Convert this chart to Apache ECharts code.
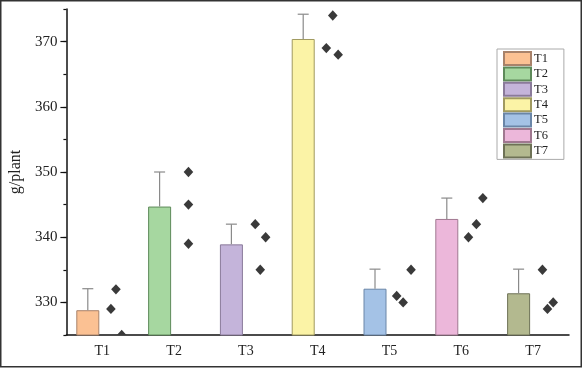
<!DOCTYPE html>
<html>
<head>
<meta charset="utf-8">
<script src="https://cdn.jsdelivr.net/npm/echarts@6/dist/echarts.min.js"></script>
<style>html,body{margin:0;padding:0;background:#fff;}#c{width:582px;height:368px;}</style>
</head>
<body>
<div id="c"></div>
<script>
// ---- data ----
const categories = ['T1', 'T2', 'T3', 'T4', 'T5', 'T6', 'T7'];
const means = [328.8, 344.7, 338.9, 370.4, 332.1, 342.8, 331.4];
const upper = [332.1, 350.0, 342.0, 374.2, 335.1, 346.0, 335.1];
const points = [
  [332, 329, 325],
  [350, 345, 339],
  [342, 340, 335],
  [374, 369, 368],
  [335, 331, 330],
  [346, 342, 340],
  [335, 329, 330]
];
const jitter = [
  [0.19, 0.12, 0.27],
  [0.20, 0.20, 0.20],
  [0.13, 0.275, 0.20],
  [0.21, 0.12, 0.285],
  [0.30, 0.10, 0.19],
  [0.30, 0.21, 0.10],
  [0.13, 0.20, 0.28]
];
const fills = ['#FBC193', '#A6D7A0', '#C4B4DA', '#FBF3A6', '#A4C2E6', '#ECB7DA', '#B3B98F'];
const borders = ['#A8826A', '#5E8A5A', '#8A7A9A', '#A09A60', '#6A86A8', '#A07890', '#6E7256'];

const FONT = '"Liberation Serif", "DejaVu Serif", serif';
const BAR_OFFSET = -14.5;

const chart = echarts.init(document.getElementById('c'), null, {renderer: 'canvas'});

const barSeries = categories.map((name, i) => ({
  name: name,
  type: 'bar',
  stack: 'main',
  barWidth: 23,
  barGap: '26%',
  data: categories.map((c, j) => (j === i ? means[i] : '-')),
  itemStyle: {color: fills[i], borderColor: borders[i], borderWidth: 1},
  emphasis: {disabled: true},
  z: 2
}));

const errData = categories.map((c, i) => [i, means[i], upper[i]]);
const ptData = [];
points.forEach((arr, i) => arr.forEach((v, k) => ptData.push([i, v, jitter[i][k]])));

const option = {
  animation: false,
  backgroundColor: '#fff',
  textStyle: {fontFamily: FONT},
  grid: {left: 60, right: 13, top: 9, bottom: 33, containLabel: false},
  legend: {
    orient: 'vertical',
    left: 497,
    top: 49,
    data: categories,
    itemWidth: 27,
    itemHeight: 13,
    itemGap: 0.4,
    padding: [2, 16, 1, 6],
    borderColor: '#aaa',
    borderWidth: 1,
    icon: 'rect',
    textStyle: {fontFamily: FONT, fontSize: 12.5, color: '#222', padding: [0, 0, 0, -2]}
  },
  xAxis: {
    type: 'category',
    data: categories,
    axisLine: {lineStyle: {color: '#111', width: 1.5}},
    axisTick: {alignWithLabel: true, length: 4, lineStyle: {color: '#111', width: 1.2}},
    axisLabel: {fontFamily: FONT, fontSize: 14, color: '#222', margin: 9},
    splitLine: {show: false}
  },
  yAxis: [{
    type: 'value',
    min: 325,
    max: 375,
    name: 'g/plant',
    nameLocation: 'middle',
    nameRotate: 90,
    nameGap: 37,
    nameTextStyle: {fontFamily: FONT, fontSize: 16, color: '#222'},
    axisLine: {show: true, lineStyle: {color: '#111', width: 1.5}},
    axisTick: {show: true, length: 6, lineStyle: {color: '#111', width: 1.2}},
    axisLabel: {fontFamily: FONT, fontSize: 15, color: '#222', margin: 9, showMinLabel: false, showMaxLabel: false},
    splitLine: {show: false}
  }, {
    type: 'value',
    min: 325,
    max: 375,
    interval: 5,
    position: 'left',
    axisLine: {show: false},
    axisTick: {show: true, length: 3, lineStyle: {color: '#111', width: 1.2}},
    axisLabel: {show: false},
    splitLine: {show: false}
  }],
  series: barSeries.concat([
    {
      name: 'spacer',
      type: 'bar',
      stack: 'spacer',
      barWidth: 23,
      barGap: '26%',
      data: categories.map(() => '-'),
      silent: true
    },
    {
      name: 'error',
      type: 'custom',
      data: errData,
      z: 3,
      silent: true,
      renderItem: function (params, api) {
        const base = api.coord([api.value(0), api.value(1)]);
        const top = api.coord([api.value(0), api.value(2)]);
        const x = base[0] + BAR_OFFSET;
        return {
          type: 'group',
          children: [
            {type: 'line', shape: {x1: x, y1: base[1], x2: x, y2: top[1]}, style: {stroke: '#8a8a8a', lineWidth: 1.2}},
            {type: 'line', shape: {x1: x - 5.5, y1: top[1], x2: x + 5.5, y2: top[1]}, style: {stroke: '#8a8a8a', lineWidth: 1.2}}
          ]
        };
      }
    },
    {
      name: 'points',
      type: 'custom',
      data: ptData,
      z: 4,
      clip: true,
      silent: true,
      renderItem: function (params, api) {
        const c = api.coord([api.value(0), api.value(1)]);
        const band = api.size([1, 0])[0];
        const x = c[0] + api.value(2) * band;
        const y = c[1];
        const w = 4.8, h = 5.2;
        return {
          type: 'polygon',
          shape: {points: [[x, y - h], [x + w, y], [x, y + h], [x - w, y]]},
          style: {fill: '#3a3a3a'}
        };
      }
    }
  ]),
  graphic: [{
    type: 'rect',
    shape: {x: 0.75, y: 0.75, width: 580.5, height: 366},
    style: {fill: 'none', stroke: '#333', lineWidth: 1.5},
    silent: true,
    z: 100
  }]
};
chart.setOption(option);
</script>
</body>
</html>
